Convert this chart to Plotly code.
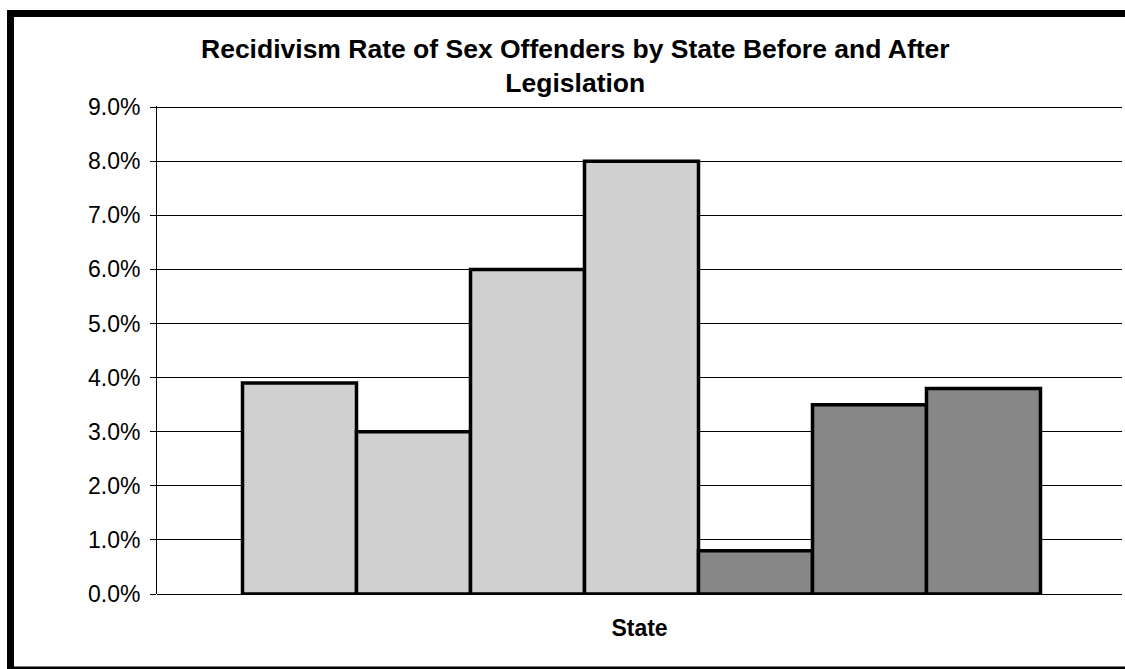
import plotly.graph_objects as go

# Data
bar_positions = [1, 2, 3, 4, 5, 6, 7]
rates = [0.039, 0.030, 0.060, 0.080, 0.008, 0.035, 0.038]
periods = ["Before", "Before", "Before", "Before", "After", "After", "After"]
period_colors = {"Before": "#d0d0d0", "After": "#878787"}
title_lines = ["Recidivism Rate of Sex Offenders by State Before and After", "Legislation"]

W, H = 1125, 669
L, R, T, B = 157, 3, 106, 75
pw, ph = W - L - R, H - T - B

def px(x):
    return (x - L) / pw

def py(y):
    return 1 - (y - T) / ph

fig = go.Figure()
fig.add_trace(go.Bar(
    x=bar_positions,
    y=rates,
    width=1,
    marker=dict(color=[period_colors[p] for p in periods],
                line=dict(color="black", width=3.5)),
    showlegend=False,
    hoverinfo="skip",
))

fig.update_layout(
    width=W, height=H,
    margin=dict(l=L, r=R, t=T, b=B),
    paper_bgcolor="white",
    plot_bgcolor="white",
    font=dict(family="Liberation Sans, Arial, sans-serif", color="black"),
    xaxis=dict(
        range=[-0.25, 8.215],
        showticklabels=False,
        showgrid=False,
        zeroline=False,
        ticks="",
        title=dict(text="<b>State</b>", font=dict(size=23, color="black"), standoff=25),
        fixedrange=True,
    ),
    yaxis=dict(
        range=[0, 0.0902],
        tickvals=[i / 100 for i in range(10)],
        tickformat=".1%",
        tickfont=dict(size=23, color="black"),
        ticklabelstandoff=5,
        showgrid=True, gridcolor="black", gridwidth=1,
        showline=True, linecolor="black", linewidth=1,
        ticks="outside", ticklen=6, tickcolor="black",
        zeroline=True, zerolinecolor="black", zerolinewidth=1,
        fixedrange=True,
    ),
    annotations=[
        dict(text="<b>" + "</b><br><b>".join(title_lines) + "</b>",
             xref="paper", yref="paper", x=px(575), y=py(32),
             xanchor="center", yanchor="top", showarrow=False,
             font=dict(size=26.5, color="black")),
    ],
    shapes=[
        dict(type="rect", xref="paper", yref="paper",
             x0=px(7), x1=px(14), y0=py(10), y1=py(669),
             fillcolor="black", line=dict(width=0), layer="above"),
        dict(type="rect", xref="paper", yref="paper",
             x0=px(7), x1=px(1125), y0=py(10), y1=py(17),
             fillcolor="black", line=dict(width=0), layer="above"),
        dict(type="rect", xref="paper", yref="paper",
             x0=px(7), x1=px(1125), y0=py(666.5), y1=py(669),
             fillcolor="black", line=dict(width=0), layer="above"),
    ],
)

fig.write_html("out.html")
